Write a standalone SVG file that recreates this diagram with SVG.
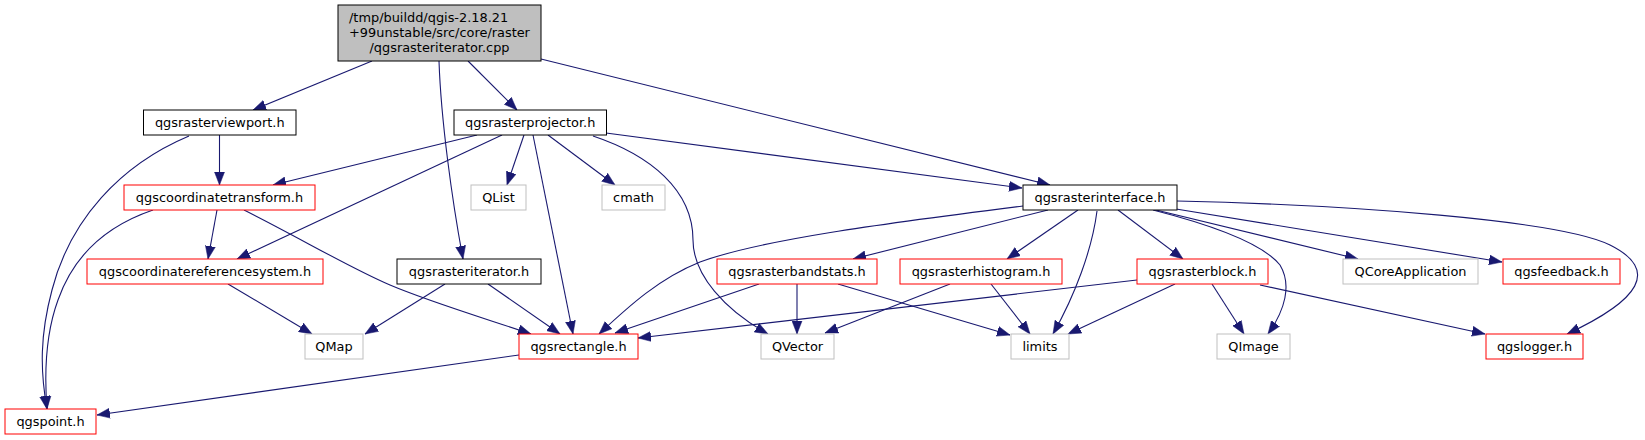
<svg xmlns="http://www.w3.org/2000/svg" width="1645" height="440" viewBox="0 0 1645 440">
<style>
.n rect{fill:#ffffff;stroke-width:1}
.blk rect{stroke:#000000}
.red rect{stroke:#ff0000}
.gry rect{stroke:#bfbfbf}
.root rect{fill:#bfbfbf;stroke:#000000}
text{font-family:"DejaVu Sans","Liberation Sans",sans-serif;font-size:12.9px;fill:#000000;text-anchor:middle}
.e path{fill:none;stroke:#191970;stroke-width:1.1;marker-end:url(#ah)}
</style>
<defs>
<marker id="ah" viewBox="0 0 13 11" refX="13" refY="5.5" markerWidth="13" markerHeight="11" markerUnits="userSpaceOnUse" orient="auto">
<path d="M0,0.5 L13,5.5 L0,10.5 z" fill="#191970" stroke="#191970" stroke-width="0.5"/>
</marker>
</defs>
<rect width="1645" height="440" fill="#ffffff"/>
<g class="e" id="edges">
<path d="M372,61 L253,110"/>
<path d="M439,61 C441,120 452,200 463,259"/>
<path d="M468,61 L517,110"/>
<path d="M541,59 L1050,185"/>
<path d="M219.5,135 L219.5,185"/>
<path d="M189,136 C120,165 70,220 52,290 C40,335 40,370 47,409"/>
<path d="M153,210 C100,228 72,260 58,300 C47,330 44,370 47,409"/>
<path d="M217,210 L208,259"/>
<path d="M244,210 C300,238 350,268 390,285 C430,302 490,320 531,334"/>
<path d="M477,135 L273,185"/>
<path d="M502,135 L237,259"/>
<path d="M524,135 L507,185"/>
<path d="M533,135 L573,334"/>
<path d="M548,135 L615,185"/>
<path d="M593,136 C650,155 693,190 693,240 C693,275 725,310 768,334"/>
<path d="M606,133 L1022,188"/>
<path d="M445,284 L365,334"/>
<path d="M488,284 L560,334"/>
<path d="M228,284 L312,334"/>
<path d="M519,355 L97,415"/>
<path d="M1023,206 C880,224 760,240 700,262 C660,278 630,305 599,334"/>
<path d="M1048,210 L853,259"/>
<path d="M1078,210 L1007,259"/>
<path d="M1097,211 C1092,250 1075,295 1053,334"/>
<path d="M1118,210 L1183,259"/>
<path d="M1153,210 C1200,222 1260,240 1280,265 C1292,285 1285,310 1268,334"/>
<path d="M1156,210 L1358,259"/>
<path d="M1176,209 L1502,262"/>
<path d="M1177,201 C1350,205 1560,220 1610,245 C1660,270 1640,300 1567,334"/>
<path d="M1137,280 L638,338"/>
<path d="M1175,284 L1068,334"/>
<path d="M1212,284 L1244,334"/>
<path d="M1260,285 L1485,334"/>
<path d="M759,284 L615,333"/>
<path d="M797,284 L797,334"/>
<path d="M838,284 L1010,335"/>
<path d="M950,284 L825,333"/>
<path d="M991,284 L1030,334"/>
</g>
<g id="root" class="n root"><rect x="338" y="5" width="203" height="56"/>
<text x="349" y="21.5" style="text-anchor:start">/tmp/buildd/qgis-2.18.21</text>
<text x="439.5" y="36.5">+99unstable/src/core/raster</text>
<text x="439.5" y="51.5">/qgsrasteriterator.cpp</text></g>
<g id="viewport" class="n blk"><rect x="143.5" y="110" width="152.5" height="25"/><text x="219.75" y="127">qgsrasterviewport.h</text></g>
<g id="projector" class="n blk"><rect x="454" y="110" width="152.5" height="25"/><text x="530.25" y="127">qgsrasterprojector.h</text></g>
<g id="transform" class="n red"><rect x="124" y="185" width="191" height="25"/><text x="219.5" y="202">qgscoordinatetransform.h</text></g>
<g id="qlist" class="n gry"><rect x="471" y="185" width="55" height="25"/><text x="498.5" y="202">QList</text></g>
<g id="cmath" class="n gry"><rect x="602" y="185" width="63" height="25"/><text x="633.5" y="202">cmath</text></g>
<g id="interface" class="n blk"><rect x="1023" y="185" width="154" height="25"/><text x="1100" y="202">qgsrasterinterface.h</text></g>
<g id="crs" class="n red"><rect x="87" y="259" width="236" height="25"/><text x="205" y="276">qgscoordinatereferencesystem.h</text></g>
<g id="iterator" class="n blk"><rect x="397" y="259" width="144" height="25"/><text x="469" y="276">qgsrasteriterator.h</text></g>
<g id="bandstats" class="n red"><rect x="717" y="259" width="160" height="25"/><text x="797" y="276">qgsrasterbandstats.h</text></g>
<g id="histogram" class="n red"><rect x="900" y="259" width="162" height="25"/><text x="981" y="276">qgsrasterhistogram.h</text></g>
<g id="block" class="n red"><rect x="1137" y="259" width="131" height="25"/><text x="1202.5" y="276">qgsrasterblock.h</text></g>
<g id="qcoreapp" class="n gry"><rect x="1343" y="259" width="135" height="25"/><text x="1410.5" y="276">QCoreApplication</text></g>
<g id="feedback" class="n red"><rect x="1503" y="259" width="117" height="25"/><text x="1561.5" y="276">qgsfeedback.h</text></g>
<g id="qmap" class="n gry"><rect x="305" y="334" width="58" height="25"/><text x="334" y="351">QMap</text></g>
<g id="rectangle" class="n red"><rect x="519" y="334" width="119" height="25"/><text x="578.5" y="351">qgsrectangle.h</text></g>
<g id="qvector" class="n gry"><rect x="761" y="334" width="73" height="25"/><text x="797.5" y="351">QVector</text></g>
<g id="limits" class="n gry"><rect x="1011" y="334" width="58" height="25"/><text x="1040" y="351">limits</text></g>
<g id="qimage" class="n gry"><rect x="1217" y="334" width="73" height="25"/><text x="1253.5" y="351">QImage</text></g>
<g id="logger" class="n red"><rect x="1486" y="334" width="97" height="25"/><text x="1534.5" y="351">qgslogger.h</text></g>
<g id="point" class="n red"><rect x="5" y="409" width="91" height="25"/><text x="50.5" y="426">qgspoint.h</text></g>
</svg>
